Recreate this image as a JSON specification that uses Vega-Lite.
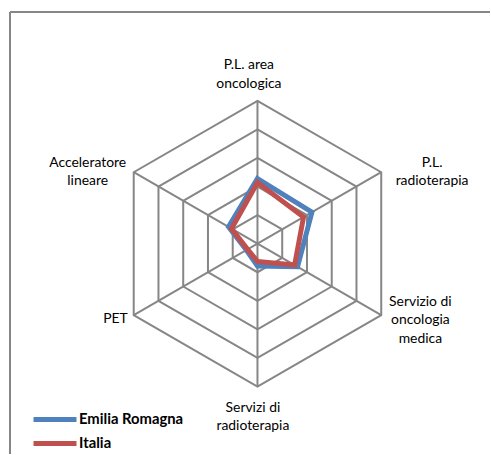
{
  "$schema": "https://vega.github.io/schema/vega-lite/v6.json",
  "width": 491,
  "height": 455,
  "autosize": {"type": "fit", "contains": "padding"},
  "padding": {"left": 9, "top": 11, "right": 0, "bottom": 0},
  "background": "white",
  "config": {"view": {"stroke": null}},
  "datasets": {
    "axes": [
      {"idx": 0, "label": "P.L. area\noncologica", "rings": [1, 2, 3, 4, 5]},
      {"idx": 1, "label": "P.L.\nradioterapia", "rings": [1, 2, 3, 4, 5]},
      {"idx": 2, "label": "Servizio di\noncologia\nmedica", "rings": [1, 2, 3, 4, 5]},
      {"idx": 3, "label": "Servizi di\nradioterapia", "rings": [1, 2, 3, 4, 5]},
      {"idx": 4, "label": "PET", "rings": [1, 2, 3, 4, 5]},
      {"idx": 5, "label": "Acceleratore\nlineare", "rings": [1, 2, 3, 4, 5]}
    ],
    "scores": [
      {"serie": "Emilia Romagna", "idx": 0, "categoria": "P.L. area oncologica", "valore": 2.28},
      {"serie": "Emilia Romagna", "idx": 1, "categoria": "P.L. radioterapia", "valore": 2.2},
      {"serie": "Emilia Romagna", "idx": 2, "categoria": "Servizio di oncologia medica", "valore": 1.62},
      {"serie": "Emilia Romagna", "idx": 3, "categoria": "Servizi di radioterapia", "valore": 0.78},
      {"serie": "Emilia Romagna", "idx": 4, "categoria": "PET", "valore": 0.45},
      {"serie": "Emilia Romagna", "idx": 5, "categoria": "Acceleratore lineare", "valore": 1.17},
      {"serie": "Italia", "idx": 0, "categoria": "P.L. area oncologica", "valore": 2.14},
      {"serie": "Italia", "idx": 1, "categoria": "P.L. radioterapia", "valore": 1.86},
      {"serie": "Italia", "idx": 2, "categoria": "Servizio di oncologia medica", "valore": 1.5},
      {"serie": "Italia", "idx": 3, "categoria": "Servizi di radioterapia", "valore": 0.62},
      {"serie": "Italia", "idx": 4, "categoria": "PET", "valore": 0.4},
      {"serie": "Italia", "idx": 5, "categoria": "Acceleratore lineare", "valore": 1.05}
    ],
    "frame": [{"bordo": "cornice"}]
  },
  "layer": [
    {
      "data": {"name": "axes"},
      "transform": [
        {"flatten": ["rings"]},
        {"calculate": "datum.idx * PI / 3", "as": "t"},
        {"calculate": "datum.rings * sin(datum.t)", "as": "x"},
        {"calculate": "datum.rings * cos(datum.t)", "as": "y"}
      ],
      "mark": {"type": "line", "interpolate": "linear-closed", "stroke": "#868686", "strokeWidth": 2, "strokeJoin": "miter"},
      "encoding": {
        "x": {"field": "x", "type": "quantitative", "scale": {"domain": [-8.659, 8.136], "nice": false, "zero": false}, "axis": null},
        "y": {"field": "y", "type": "quantitative", "scale": {"domain": [-7.362, 8.108], "nice": false, "zero": false}, "axis": null},
        "detail": {"field": "rings", "type": "nominal"},
        "order": {"field": "idx", "type": "quantitative"}
      }
    },
    {
      "data": {"name": "axes"},
      "transform": [
        {"calculate": "datum.idx * PI / 3", "as": "t"},
        {"calculate": "5 * sin(datum.t)", "as": "x"},
        {"calculate": "5 * cos(datum.t)", "as": "y"}
      ],
      "mark": {"type": "rule", "stroke": "#868686", "strokeWidth": 2},
      "encoding": {
        "x": {"field": "x", "type": "quantitative"},
        "y": {"field": "y", "type": "quantitative"},
        "x2": {"datum": 0},
        "y2": {"datum": 0}
      }
    },
    {
      "data": {"name": "scores"},
      "transform": [
        {"calculate": "datum.idx * PI / 3", "as": "t"},
        {"calculate": "datum.valore * sin(datum.t)", "as": "x"},
        {"calculate": "datum.valore * cos(datum.t)", "as": "y"}
      ],
      "mark": {"type": "line", "interpolate": "linear-closed", "strokeWidth": 5, "strokeJoin": "miter"},
      "encoding": {
        "x": {"field": "x", "type": "quantitative"},
        "y": {"field": "y", "type": "quantitative"},
        "order": {"field": "idx", "type": "quantitative"},
        "color": {
          "field": "serie",
          "type": "nominal",
          "scale": {"domain": ["Emilia Romagna", "Italia"], "range": ["#4F81BD", "#C0504D"]},
          "legend": {
            "title": null,
            "orient": "none",
            "legendX": 32.5,
            "legendY": 395,
            "padding": 0,
            "symbolType": "M-2.15,0H2.15",
            "symbolSize": 400,
            "symbolStrokeWidth": 5,
            "labelFont": "Lato",
            "labelFontWeight": "bold",
            "labelFontSize": 14.8,
            "labelColor": "black",
            "labelOffset": 11.5,
            "rowPadding": 1
          }
        }
      }
    },
    {
      "data": {"name": "axes"},
      "transform": [
        {"calculate": "datum.idx * PI / 3", "as": "t"},
        {"calculate": "5 * sin(datum.t) + [-0.3, 1.78, 1.37, -0.16, -0.64, -1.61][datum.idx]", "as": "lx"},
        {"calculate": "5 * cos(datum.t) + [1.242, 0.332, 0.465, -0.738, -0.15, 0.332][datum.idx]", "as": "ly"}
      ],
      "mark": {"type": "text", "lineBreak": "\n", "font": "Lato", "fontSize": 13.9, "lineHeight": 18.5, "align": "center", "baseline": "middle", "color": "black"},
      "encoding": {
        "x": {"field": "lx", "type": "quantitative"},
        "y": {"field": "ly", "type": "quantitative"},
        "text": {"field": "label", "type": "nominal"}
      }
    },
    {
      "data": {"name": "frame"},
      "mark": {"type": "rule", "stroke": "#868686", "strokeWidth": 2},
      "encoding": {"x": {"datum": -8.659}}
    },
    {
      "data": {"name": "frame"},
      "mark": {"type": "rule", "stroke": "#868686", "strokeWidth": 2},
      "encoding": {"y": {"datum": 8.108}}
    }
  ]
}
